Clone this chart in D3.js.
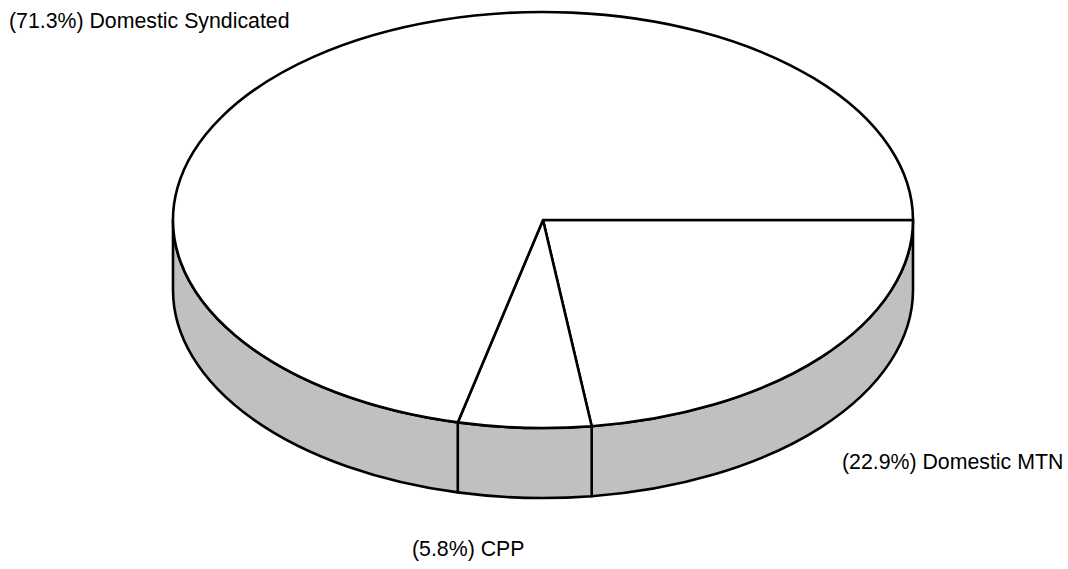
<!DOCTYPE html>
<html>
<head>
<meta charset="utf-8">
<script src="https://cdn.jsdelivr.net/npm/d3@7"></script>
<style>
  html, body { margin: 0; padding: 0; background: #fff; }
  svg { display: block; }
  text { font-family: "Liberation Sans", Arial, sans-serif; font-size: 21.3px; fill: #000; }
</style>
</head>
<body>
<svg id="chart" width="1068" height="569"></svg>
<script>
// Data
const categories = ["Domestic MTN", "CPP", "Domestic Syndicated"];
const values = [22.9, 5.8, 71.3];
const labels = ["(22.9%) Domestic MTN", "(5.8%) CPP", "(71.3%) Domestic Syndicated"];

const W = 1068, H = 569;
const cx = 543, cy = 220, rx = 370, ry = 208, depth = 70;
const svg = d3.select("#chart");

const pie = d3.pie().sort(null).value(d => d)
  .startAngle(Math.PI / 2).endAngle(Math.PI / 2 + 2 * Math.PI);
const arcs = pie(values);

const pt = (a, dy = 0) => [cx + rx * Math.sin(a), cy - ry * Math.cos(a) + dy];
const f = p => p[0].toFixed(2) + "," + p[1].toFixed(2);

function arcCmd(a0, a1, dy, sweep) {
  const large = Math.abs(a1 - a0) > Math.PI ? 1 : 0;
  const end = sweep ? pt(a1, dy) : pt(a0, dy);
  return `A${rx},${ry} 0 ${large} ${sweep} ${f(end)}`;
}

// Side walls (front half: a in [PI/2, 3PI/2])
const frontStart = Math.PI / 2, frontEnd = 3 * Math.PI / 2;
const sides = svg.append("g");
arcs.forEach(d => {
  const s = Math.max(d.startAngle, frontStart);
  const e = Math.min(d.endAngle, frontEnd);
  if (e <= s) return;
  const path = `M${f(pt(s))} ${arcCmd(s, e, 0, 1)} L${f(pt(e, depth))} ` +
    `A${rx},${ry} 0 ${(e - s) > Math.PI ? 1 : 0} 0 ${f(pt(s, depth))} Z`;
  sides.append("path")
    .attr("d", path)
    .attr("fill", "#c0c0c0")
    .attr("stroke", "#000")
    .attr("stroke-width", 2.6)
    .attr("stroke-linejoin", "round");
});

// Top faces
const tops = svg.append("g");
arcs.forEach(d => {
  const path = `M${cx},${cy} L${f(pt(d.startAngle))} ${arcCmd(d.startAngle, d.endAngle, 0, 1)} Z`;
  tops.append("path")
    .attr("d", path)
    .attr("fill", "#fff")
    .attr("stroke", "#000")
    .attr("stroke-width", 2.6)
    .attr("stroke-linejoin", "round");
});

// Labels
const labelPos = [
  { x: 842, y: 469, anchor: "start" },
  { x: 412, y: 556, anchor: "start" },
  { x: 9, y: 28, anchor: "start" }
];
svg.append("g").selectAll("text")
  .data(labels)
  .join("text")
  .attr("x", (d, i) => labelPos[i].x)
  .attr("y", (d, i) => labelPos[i].y)
  .attr("text-anchor", (d, i) => labelPos[i].anchor)
  .text(d => d);
</script>
</body>
</html>
